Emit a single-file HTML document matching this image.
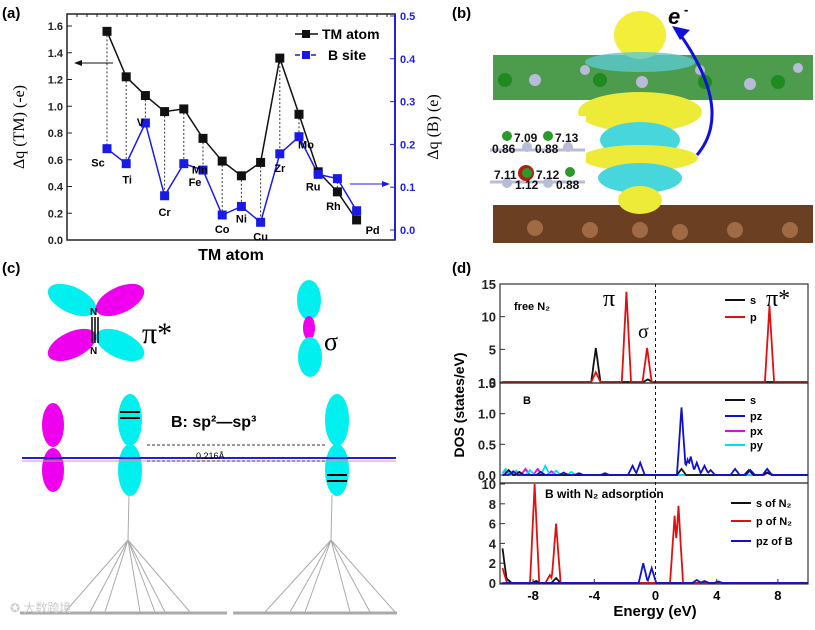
<!DOCTYPE html>
<html><head><meta charset="utf-8"><style>
body{margin:0;background:#fff;width:815px;height:625px;overflow:hidden}
svg{font-family:"Liberation Sans",sans-serif;}
</style></head><body>
<svg id="fig" width="815" height="625" viewBox="0 0 815 625">
<text x="2" y="18" font-size="15" font-weight="bold">(a)</text>
<text x="452" y="18" font-size="15" font-weight="bold">(b)</text>
<text x="2" y="273" font-size="15" font-weight="bold">(c)</text>
<text x="452" y="273" font-size="15" font-weight="bold">(d)</text>

<g id="pa"></g>

<g>
  <rect x="493" y="55" width="320" height="45" fill="#2e8b2e" opacity="0.85"/>
  <g fill="#b8bcd8"><circle cx="535" cy="80" r="6"/><circle cx="642" cy="82" r="6"/><circle cx="750" cy="84" r="6"/><circle cx="585" cy="70" r="5"/><circle cx="700" cy="70" r="5"/><circle cx="798" cy="68" r="5"/></g>
  <g fill="#1f8a1f"><circle cx="505" cy="80" r="7"/><circle cx="600" cy="80" r="7"/><circle cx="705" cy="82" r="7"/><circle cx="778" cy="82" r="7"/></g>
  <rect x="493" y="205" width="320" height="38" fill="#6b3f22"/>
  <g fill="#a06a45"><circle cx="535" cy="228" r="8"/><circle cx="590" cy="230" r="8"/><circle cx="640" cy="230" r="8"/><circle cx="680" cy="232" r="8"/><circle cx="735" cy="230" r="8"/><circle cx="790" cy="230" r="8"/></g>
  <ellipse cx="640" cy="35" rx="26" ry="24" fill="#f2ee3a"/>
  <ellipse cx="640" cy="62" rx="55" ry="10" fill="#5cc9cf" opacity="0.8"/>
  <ellipse cx="640" cy="112" rx="62" ry="20" fill="#eeea38"/>
  <ellipse cx="640" cy="140" rx="40" ry="18" fill="#47d6dc"/>
  <ellipse cx="640" cy="158" rx="58" ry="13" fill="#eeea38"/>
  <ellipse cx="640" cy="178" rx="42" ry="15" fill="#47d6dc"/>
  <ellipse cx="640" cy="200" rx="22" ry="14" fill="#eeea38"/>
  <path d="M697 155 Q735 110 677 30" fill="none" stroke="#1010dd" stroke-width="3"/>
  <polygon points="672,26 690,30 680,40" fill="#1010dd"/>
  <text x="668" y="24" font-size="22" font-weight="bold" font-style="italic">e</text>
  <text x="684" y="14" font-size="13" font-weight="bold">-</text>
  <rect x="486" y="116" width="100" height="84" fill="#fff"/>
  <g stroke="#b8bcd8" stroke-width="3"><line x1="490" y1="150" x2="585" y2="150"/><line x1="490" y1="182" x2="585" y2="182"/></g>
  <g fill="#2a9a2a"><circle cx="507" cy="136" r="5"/><circle cx="548" cy="136" r="5"/><circle cx="528" cy="172" r="5"/><circle cx="570" cy="172" r="5"/></g>
  <circle cx="526" cy="173" r="8" fill="#b02010"/><circle cx="527" cy="173" r="5" fill="#2a9a2a"/>
  <g fill="#b8bcd8"><circle cx="527" cy="147" r="5"/><circle cx="568" cy="147" r="5"/><circle cx="548" cy="183" r="5"/><circle cx="507" cy="183" r="5"/></g>
  <g font-size="12" font-weight="bold" fill="#111">
    <text x="514" y="142">7.09</text><text x="555" y="142">7.13</text>
    <text x="492" y="153">0.86</text><text x="535" y="153">0.88</text>
    <text x="494" y="179">7.11</text><text x="536" y="179">7.12</text>
    <text x="515" y="189">1.12</text><text x="556" y="189">0.88</text>
  </g>
</g>

<g>
  <ellipse cx="72" cy="300" rx="26" ry="13" fill="#00f0f0" transform="rotate(25 72 300)"/>
  <ellipse cx="120" cy="300" rx="26" ry="13" fill="#ee00ee" transform="rotate(-25 120 300)"/>
  <ellipse cx="72" cy="345" rx="26" ry="13" fill="#ee00ee" transform="rotate(-25 72 345)"/>
  <ellipse cx="120" cy="345" rx="26" ry="13" fill="#00f0f0" transform="rotate(25 120 345)"/>
  <g stroke="#000" stroke-width="1.5"><line x1="92" y1="317" x2="92" y2="343"/><line x1="95" y1="317" x2="95" y2="343"/><line x1="98" y1="317" x2="98" y2="343"/></g>
  <text x="90" y="315" font-size="10" font-weight="bold">N</text><text x="90" y="354" font-size="10" font-weight="bold">N</text>
  <text x="142" y="343" font-size="30" font-family="Liberation Serif">π*</text>
  <ellipse cx="309" cy="300" rx="12" ry="20" fill="#00f0f0"/>
  <ellipse cx="309" cy="328" rx="6" ry="12" fill="#ee00ee"/>
  <ellipse cx="310" cy="357" rx="12" ry="20" fill="#00f0f0"/>
  <text x="324" y="350" font-size="26" font-family="Liberation Serif">σ</text>
  <ellipse cx="53" cy="425" rx="11" ry="22" fill="#ee00ee"/><ellipse cx="53" cy="470" rx="11" ry="22" fill="#ee00ee"/>
  <ellipse cx="130" cy="420" rx="12" ry="26" fill="#00f0f0"/><ellipse cx="130" cy="470" rx="12" ry="26" fill="#00f0f0"/>
  <ellipse cx="337" cy="420" rx="12" ry="26" fill="#00f0f0"/><ellipse cx="337" cy="470" rx="12" ry="26" fill="#00f0f0"/>
  <g stroke="#000" stroke-width="2"><line x1="120" y1="412" x2="140" y2="412"/><line x1="120" y1="418" x2="140" y2="418"/><line x1="327" y1="475" x2="347" y2="475"/><line x1="327" y1="481" x2="347" y2="481"/></g>
  <line x1="22" y1="458" x2="396" y2="458" stroke="#2222cc" stroke-width="2"/>
  <line x1="22" y1="461" x2="396" y2="461" stroke="#e89090" stroke-width="1"/>
  <line x1="147" y1="445" x2="325" y2="445" stroke="#333" stroke-dasharray="3,2"/>
  <line x1="147" y1="461" x2="325" y2="461" stroke="#333" stroke-dasharray="3,2"/>
  <text x="196" y="459" font-size="9">0.216Å</text>
  <text x="171" y="427" font-size="16" font-weight="bold">B: sp²—sp³</text>
  <g stroke="#aaa" stroke-width="1" fill="none">
    <line x1="129" y1="495" x2="128" y2="540"/><line x1="332" y1="495" x2="331" y2="540"/>
    <path d="M128 540 L65 612 M128 540 L90 612 M128 540 L105 612 M128 540 L140 612 M128 540 L155 612 M128 540 L165 612 M128 540 L190 612"/>
    <path d="M331 540 L265 612 M331 540 L290 612 M331 540 L305 612 M331 540 L350 612 M331 540 L370 612 M331 540 L395 612"/>
    <line x1="20" y1="613" x2="227" y2="613" stroke-width="3"/><line x1="233" y1="613" x2="397" y2="613" stroke-width="3"/>
  </g>
  <text x="10" y="612" font-size="12" fill="#ccc" font-family="Liberation Sans, Noto Sans CJK SC, sans-serif">✪ 大数跨境</text>
</g>

<g id="pd"></g>
</svg>
<script>
// ---- Panel (a) data ----
const tmCategories = ["Sc","Ti","V","Cr","Mn","Fe","Co","Ni","Cu","Zr","Mo","Ru","Rh","Pd"];
const tmValues = [1.56,1.22,1.08,0.96,0.98,0.76,0.59,0.48,0.58,1.36,0.94,0.51,0.36,0.15];
const bValues = [0.19,0.155,0.25,0.08,0.155,0.14,0.035,0.055,0.018,0.178,0.218,0.13,0.12,0.045];
const leftTicks = [0,0.2,0.4,0.6,0.8,1.0,1.2,1.4,1.6];
const rightTicks = [0,0.1,0.2,0.3,0.4,0.5];
// ---- Panel (d) data: peaks [energy, height] ----
const energyTicks = [-8,-4,0,4,8];
const freeS = [[-3.9,5.2],[-0.5,0.4]];
const freeP = [[-3.9,1.5],[-1.9,13.8],[-0.55,5.2],[7.45,11.7]];
const bS = [[-9.6,0.08],[-8.9,0.05],[1.7,0.1],[6.1,0.08],[7.3,0.04]];
const bPz = [[-9.3,0.06],[-7.5,0.05],[-6,0.04],[-5,0.03],[-3.3,0.03],[-1.5,0.15],[-1.0,0.2],[1.7,1.1],[2.1,0.25],[2.3,0.3],[2.7,0.2],[3.2,0.15],[3.6,0.08],[5.2,0.1],[6.2,0.08],[7.3,0.1]];
const bPx = [[-9.8,0.08],[-8.5,0.1],[-7.7,0.1],[-6.8,0.06],[7.4,0.05]];
const bPy = [[-9.8,0.1],[-9.1,0.07],[-8.2,0.08],[-7.2,0.15],[-6.5,0.07],[-5.5,0.05],[7.3,0.1]];
const adsS = [[-10,3.5],[-9.7,0.4],[-6.5,0.5],[-7.8,0.2]];
const adsP = [[-10,1.5],[-7.9,10],[-6.9,0.8],[-6.5,6],[1.25,6.8],[1.5,7.8]];
const adsPz = [[-0.8,2.0],[-0.25,1.5],[2.7,0.3],[3.2,0.2],[4.1,0.15]];

const NS="http://www.w3.org/2000/svg";
function mk(parent,tag,attrs,text){const e=document.createElementNS(NS,tag);for(const k in attrs)e.setAttribute(k,attrs[k]);if(text!==undefined)e.textContent=text;parent.appendChild(e);return e;}

(function(){
const g=document.getElementById('pa');
const X0=67,X1=395,Y0=14,Y1=240;
const xS=i=>107+i*19.2;
const yL=v=>240-v*133.75;
const yR=v=>230-v*428;
const fr=mk(g,'rect',{x:X0,y:Y0,width:X1-X0,height:Y1-Y0,fill:'none',stroke:'#222','stroke-width':1.5});


mk(g,'line',{x1:X1,y1:Y0,x2:X1,y2:Y1,stroke:'#2222dd','stroke-width':2});
leftTicks.forEach(v=>{const y=yL(v);mk(g,'line',{x1:X0,y1:y,x2:X0+5,y2:y,stroke:'#222'});
 const t=mk(g,'text',{x:X0-4,y:y+4,'font-size':11,'font-weight':'bold','text-anchor':'end',fill:'#222'},v.toFixed(1));
 });
rightTicks.forEach(v=>{const y=yR(v);mk(g,'line',{x1:X1-5,y1:y,x2:X1,y2:y,stroke:'#2222dd'});
 const t=mk(g,'text',{x:X1+5,y:y+4,'font-size':11,'font-weight':'bold',fill:'#2222dd'},v.toFixed(1));
 });
for(let x=X0+10;x<X1;x+=10){mk(g,'line',{x1:x,y1:Y0,x2:x,y2:Y0+3,stroke:'#222'});}
let yt=mk(g,'text',{x:0,y:0,'font-size':16,'font-family':'Liberation Serif','text-anchor':'middle',transform:'translate(24,127) rotate(-90)'},'Δq (TM) (-e)');

yt=mk(g,'text',{x:0,y:0,'font-size':16,'font-family':'Liberation Serif','text-anchor':'middle',transform:'translate(438,127) rotate(-90)'},'Δq (B) (e)');

const xt=mk(g,'text',{x:231,y:260,'font-size':16,'font-weight':'bold','text-anchor':'middle'},'TM atom');

tmCategories.forEach((c,i)=>{mk(g,'line',{x1:xS(i),y1:yL(tmValues[i]),x2:xS(i),y2:yR(bValues[i]),stroke:'#333','stroke-dasharray':'2,2'});});
const tmPts=tmValues.map((v,i)=>xS(i)+','+yL(v)).join(' ');
const bPts=bValues.map((v,i)=>xS(i)+','+yR(v)).join(' ');
const l1=mk(g,'polyline',{points:tmPts,fill:'none',stroke:'#111','stroke-width':1.5});

const l2=mk(g,'polyline',{points:bPts,fill:'none',stroke:'#1a1ae6','stroke-width':1.5});

tmValues.forEach((v,i)=>{const r=mk(g,'rect',{x:xS(i)-4.5,y:yL(v)-4.5,width:9,height:9,fill:'#111'});
 });
bValues.forEach((v,i)=>{const r=mk(g,'rect',{x:xS(i)-4.5,y:yR(v)-4.5,width:9,height:9,fill:'#1a1ae6'});
 });
const lblOff=[[-9,18],[1,20],[-5,3],[0,20],[16,10],[-8,16],[0,18],[0,16],[0,18],[0,18],[7,12],[-5,16],[-4,18],[16,14]];
tmCategories.forEach((c,i)=>{const low=Math.max(yL(tmValues[i]),yR(bValues[i]));
 const t=mk(g,'text',{x:xS(i)+lblOff[i][0],y:low+lblOff[i][1],'font-size':11,'font-weight':'bold','text-anchor':'middle'},c);
 });
mk(g,'line',{x1:76,y1:63,x2:113,y2:63,stroke:'#111'});mk(g,'polygon',{points:'74,63 82,60 82,66',fill:'#111'});
mk(g,'line',{x1:350,y1:184,x2:388,y2:184,stroke:'#1a1ae6'});mk(g,'polygon',{points:'390,184 382,181 382,187',fill:'#1a1ae6'});
const lg=mk(g,'g',{});
mk(lg,'line',{x1:295,y1:34,x2:318,y2:34,stroke:'#111','stroke-width':1.5});mk(lg,'rect',{x:302,y:30,width:8,height:8,fill:'#111'});
mk(lg,'text',{x:322,y:39,'font-size':14,'font-weight':'bold'},'TM atom');
mk(lg,'line',{x1:295,y1:55,x2:318,y2:55,stroke:'#1a1ae6','stroke-width':1.5,'stroke-dasharray':'5,3'});mk(lg,'rect',{x:302,y:51,width:8,height:8,fill:'#1a1ae6'});
mk(lg,'text',{x:328,y:60,'font-size':14,'font-weight':'bold'},'B site');
})();

(function(){
const g=document.getElementById('pd');
const X0=500,X1=808;
const xS=e=>655.5+e*15.3;
const panels=[
 {top:284,bot:383,y0:382,ymax:15,yTop:284,ticks:[0,5,10,15],fmt:v=>v,series:[[freeS,'#111'],[freeP,'#e01010']],name:'free-n2'},
 {top:383,bot:483,y0:475,ymax:1.5,yTop:383,ticks:[0,0.5,1.0,1.5],fmt:v=>v.toFixed(1),series:[[bPx,'#ee00ee'],[bPy,'#00e0e8'],[bS,'#111'],[bPz,'#1010d0']],name:'b-site'},
 {top:483,bot:584,y0:583,ymax:10,yTop:484,ticks:[0,2,4,6,8,10],fmt:v=>v,series:[[adsS,'#111'],[adsP,'#e01010'],[adsPz,'#1010d0']],name:'b-with-n2'}];
panels.forEach(p=>{
 const yS=v=>p.y0-v*(p.y0-p.yTop)/p.ymax;
 const fr=mk(g,'rect',{x:X0,y:p.top,width:X1-X0,height:p.bot-p.top,fill:'none',stroke:'#333','stroke-width':1.2});
 
 p.ticks.forEach(v=>{const y=yS(v);mk(g,'line',{x1:X0,y1:y,x2:X0+5,y2:y,stroke:'#333'});
  const t=mk(g,'text',{x:X0-4,y:y+5,'font-size':13,'font-weight':'bold','text-anchor':'end',fill:'#222'},p.fmt(v));
  });
 p.series.forEach(([peaks,col])=>{
  let pts=[];
  for(let e=-10;e<=10.001;e+=0.05){let v=0;peaks.forEach(([c,h])=>{const d=Math.abs(e-c);if(d<0.3)v=Math.max(v,h*(1-d/0.3));});
   pts.push(xS(e).toFixed(1)+','+yS(v).toFixed(1));}
  const pl=mk(g,'polyline',{points:pts.join(' '),fill:'none',stroke:col,'stroke-width':1.8});
  
 });
});
mk(g,'line',{x1:xS(0),y1:284,x2:xS(0),y2:584,stroke:'#111','stroke-dasharray':'3,3'});
energyTicks.forEach(e=>{mk(g,'line',{x1:xS(e),y1:584,x2:xS(e),y2:579,stroke:'#333'});
 const t=mk(g,'text',{x:xS(e),y:600,'font-size':13,'font-weight':'bold','text-anchor':'middle'},e);
 });
let t=mk(g,'text',{x:655,y:616,'font-size':15,'font-weight':'bold','text-anchor':'middle'},'Energy (eV)');

t=mk(g,'text',{x:0,y:0,'font-size':14,'font-weight':'bold','text-anchor':'middle',transform:'translate(464,405) rotate(-90)'},'DOS (states/eV)');

const T=(x,y,s,txt,extra)=>{const e=mk(g,'text',Object.assign({x:x,y:y,'font-size':s,'font-weight':'bold'},extra||{}),txt);return e;};
T(514,310,11,'free N₂');T(523,404,11,'B');T(545,498,12,'B with N₂ adsorption');
T(603,306,24,'π',{'font-family':'Liberation Serif','font-weight':'normal'});
T(638,338,20,'σ',{'font-family':'Liberation Serif','font-weight':'normal'});
T(766,306,24,'π*',{'font-family':'Liberation Serif','font-weight':'normal'});
const legs=[[300,'#111','s'],[317,'#e01010','p'],[400,'#111','s'],[416,'#1010d0','pz'],[431,'#ee00ee','px'],[445,'#00e0e8','py'],[503,'#111','s of N₂'],[521,'#e01010','p of N₂'],[541,'#1010d0','pz of B']];
legs.forEach(([y,c,l])=>{const lg=mk(g,'g',{});
 const lx=(l.length>3)?731:725;
 mk(lg,'line',{x1:lx,y1:y,x2:lx+20,y2:y,stroke:c,'stroke-width':2});
 mk(lg,'text',{x:lx+25,y:y+4,'font-size':11,'font-weight':'bold'},l);});
})();
</script>
</body></html>
